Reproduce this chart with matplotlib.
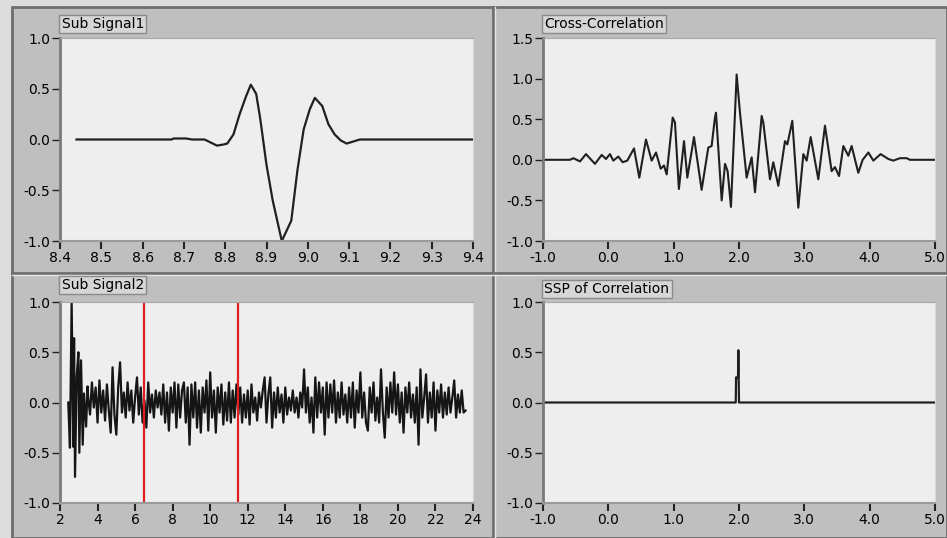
import numpy as np
import matplotlib.pyplot as plt
from matplotlib.patches import Rectangle

# Sub Signal1 (wavelet)
sig1_x = [8.44, 8.67, 8.675, 8.705, 8.72, 8.75, 8.765, 8.78, 8.795, 8.805, 8.82, 8.835,
          8.85, 8.862, 8.875, 8.885, 8.90, 8.915, 8.937, 8.96, 8.975, 8.99, 9.005,
          9.017, 9.035, 9.05, 9.065, 9.08, 9.094, 9.11, 9.126, 9.40]
sig1_y = [0.0, 0.0, 0.01, 0.01, 0.0, 0.0, -0.03, -0.06, -0.05, -0.04, 0.05, 0.25,
          0.42, 0.54, 0.45, 0.2, -0.25, -0.6, -1.0, -0.8, -0.3, 0.1, 0.3,
          0.41, 0.33, 0.15, 0.05, -0.01, -0.04, -0.02, 0.0, 0.0]

# Cross-correlation extrema
xc_x = [-1.0, -0.587, -0.536, -0.434, -0.342, -0.204, -0.102, -0.036, 0.025, 0.076,
        0.153, 0.219, 0.29, 0.393, 0.474, 0.576, 0.663, 0.73, 0.801, 0.852,
        0.893, 0.985, 1.02, 1.08, 1.158, 1.209, 1.311, 1.428, 1.53, 1.581,
        1.632, 1.648, 1.735, 1.786, 1.826, 1.877, 1.964, 2.015, 2.117, 2.194,
        2.245, 2.347, 2.372, 2.474, 2.525, 2.602, 2.704, 2.74, 2.816, 2.908,
        2.985, 3.036, 3.097, 3.214, 3.316, 3.418, 3.469, 3.531, 3.597, 3.673,
        3.724, 3.826, 3.893, 3.98, 4.056, 4.168, 4.286, 4.362, 4.464, 4.566,
        4.617, 5.0]
xc_y = [0.0, 0.0, 0.02, -0.02, 0.07, -0.05, 0.06, 0.01, 0.07, -0.01,
        0.04, -0.03, -0.01, 0.14, -0.22, 0.25, -0.01, 0.09, -0.11, -0.07,
        -0.18, 0.52, 0.46, -0.36, 0.23, -0.22, 0.28, -0.37, 0.15, 0.17,
        0.52, 0.58, -0.5, -0.05, -0.14, -0.58, 1.05, 0.58, -0.22, 0.03,
        -0.4, 0.54, 0.46, -0.24, -0.03, -0.32, 0.23, 0.19, 0.48, -0.59,
        0.07, -0.01, 0.28, -0.24, 0.42, -0.14, -0.09, -0.2, 0.17, 0.05,
        0.17, -0.16, 0.0, 0.09, -0.01, 0.07, 0.01, -0.01, 0.02, 0.02,
        0.0, 0.0]

# Sub Signal2: onset burst, then noise sampled every 0.1 s from 3.5 s
sig2_head_x = [2.44, 2.53, 2.62, 2.71, 2.75, 2.80, 2.89, 2.98, 3.03, 3.12, 3.21, 3.28, 3.39, 3.47]
sig2_head_y = [0.0, -0.45, 1.0, -0.44, 0.64, -0.74, 0.26, 0.5, -0.5, 0.42, -0.42, 0.09, -0.24, 0.16]
sig2_tail_y = [
    0.05, -0.12, 0.2, -0.05, 0.15, -0.2, 0.22, -0.1, 0.12, -0.18,
    0.18, -0.08, -0.3, 0.35, -0.12, -0.32, 0.15, 0.4, -0.1, 0.1,
    -0.15, 0.2, -0.08, 0.12, -0.2, 0.05, 0.25, -0.12, 0.15, -0.2,
    0.02, -0.25, 0.2, -0.1, 0.08, -0.15, 0.12, -0.05, 0.1, -0.12,
    0.18, -0.2, 0.1, -0.28, 0.15, -0.1, 0.2, -0.25, 0.18, -0.15,
    0.12, 0.2, -0.2, 0.15, -0.42, 0.18, -0.15, 0.2, -0.25, 0.12,
    -0.3, 0.15, -0.1, 0.22, -0.28, 0.3, -0.15, 0.12, -0.3, 0.15,
    -0.1, 0.18, -0.22, 0.1, -0.18, 0.2, -0.2, 0.12, -0.15, 0.18,
    -0.12, 0.15, -0.2, 0.08, -0.15, 0.12, -0.22, 0.18, -0.1, 0.05,
    -0.18, 0.1, -0.05, 0.12, 0.25, -0.2, 0.08, 0.25, -0.25, 0.1,
    -0.15, 0.15, -0.1, 0.08, -0.2, 0.15, -0.12, 0.05, -0.08, 0.12,
    -0.1, 0.05, -0.15, 0.1, -0.05, 0.33, -0.1, 0.15, -0.2, 0.05,
    -0.3, 0.25, -0.15, 0.2, -0.1, 0.15, -0.32, 0.2, -0.15, 0.18,
    -0.1, 0.22, -0.2, 0.1, -0.15, 0.2, -0.12, 0.08, -0.2, 0.15,
    -0.15, 0.2, -0.25, 0.12, -0.1, 0.3, -0.15, 0.1, -0.2, -0.28,
    0.15, -0.1, 0.2, -0.18, 0.05, -0.2, 0.33, -0.1, -0.35, 0.15,
    -0.15, 0.2, -0.1, 0.3, -0.12, 0.18, -0.2, 0.1, -0.3, 0.15,
    -0.1, 0.2, -0.15, 0.08, -0.2, 0.15, -0.42, 0.33, -0.15, 0.05,
    0.28, -0.2, 0.1, -0.15, 0.2, -0.28, 0.12, -0.1, 0.18, -0.15,
    0.1, -0.12, 0.15, -0.1, 0.05, 0.22, -0.15, 0.08, -0.1, 0.12,
    -0.1, -0.08]
sig2_tail_x = 3.5 + 0.1 * np.arange(len(sig2_tail_y))
cursor_x = [6.5, 11.5]

# SSP of correlation: a single spike near 2.0
ssp_x = [-1.0, 1.95, 1.955, 1.985, 1.99, 1.995, 2.0, 5.0]
ssp_y = [0.0, 0.0, 0.25, 0.25, 0.52, 0.25, 0.0, 0.0]

W, H = 947, 538
plt.rcParams['font.family'] = 'DejaVu Sans'
fig = plt.figure(figsize=(W / 100, H / 100), dpi=100, facecolor='#dcdcdc')


def px(l, t, r, b):
    return [l / W, 1 - b / H, (r - l) / W, (b - t) / H]


# panel background and separators, kept behind the graphs
fig.add_artist(Rectangle((12 / W, 0), 1 - 12 / W, 1 - 7 / H, transform=fig.transFigure,
                         facecolor='#bfbfbf', edgecolor='#6e6e6e', lw=2, zorder=-10))
fig.add_artist(plt.Line2D([493 / W, 493 / W], [0, 1 - 7 / H], transform=fig.transFigure,
                          color='#6e6e6e', lw=2, zorder=-9))
fig.add_artist(plt.Line2D([495 / W, 495 / W], [0, 1 - 7 / H], transform=fig.transFigure,
                          color='#e6e6e6', lw=1, zorder=-9))
fig.add_artist(plt.Line2D([12 / W, 1], [1 - 273 / H, 1 - 273 / H], transform=fig.transFigure,
                          color='#6e6e6e', lw=2, zorder=-9))
fig.add_artist(plt.Line2D([12 / W, 1], [1 - 275 / H, 1 - 275 / H], transform=fig.transFigure,
                          color='#e6e6e6', lw=1, zorder=-9))


def style(ax, title, title_top, xlim, ylim, xticks, xfmt, yticks):
    ax.set_facecolor('#eeeeee')
    ax.set_xlim(xlim)
    ax.set_ylim(ylim)
    ax.set_xticks(xticks)
    ax.set_xticklabels([xfmt.format(v) for v in xticks])
    ax.set_yticks(yticks)
    ax.set_yticklabels(['{:.1f}'.format(v) for v in yticks])
    ax.tick_params(axis='x', direction='out', length=6, width=1.5, pad=1, labelsize=10,
                   color='#222222')
    ax.tick_params(axis='y', direction='out', length=6, width=1, pad=1, labelsize=10,
                   color='#222222')
    ax.spines['left'].set_color('#7a7a7a')
    ax.spines['left'].set_linewidth(2)
    ax.spines['bottom'].set_color('#9a9a9a')
    ax.spines['bottom'].set_linewidth(1.5)
    ax.spines['top'].set_color('#a8a8a8')
    ax.spines['right'].set_color('#d8d8d8')
    l = ax.get_position().x0 * W
    fig.text(l / W + 1.5 / W, 1 - title_top / H, title, fontsize=10, ha='left', va='top',
             bbox=dict(boxstyle='square,pad=0.15', facecolor='#d6d6d6', edgecolor='#8a8a8a', lw=1))


ax1 = fig.add_axes(px(60, 38, 473, 241))
ax1.plot(sig1_x, sig1_y, color='#202020', lw=1.6)
style(ax1, 'Sub Signal1', 17, (8.4, 9.4), (-1.0, 1.0),
      [8.4, 8.5, 8.6, 8.7, 8.8, 8.9, 9.0, 9.1, 9.2, 9.3, 9.4], '{:.1f}', [-1.0, -0.5, 0.0, 0.5, 1.0])

ax2 = fig.add_axes(px(543, 38, 935, 241))
ax2.plot(xc_x, xc_y, color='#202020', lw=1.5)
style(ax2, 'Cross-Correlation', 17, (-1.0, 5.0), (-1.0, 1.5),
      [-1.0, 0.0, 1.0, 2.0, 3.0, 4.0, 5.0], '{:.1f}', [-1.0, -0.5, 0.0, 0.5, 1.0, 1.5])

ax3 = fig.add_axes(px(60, 302, 473, 503))
ax3.plot(list(sig2_head_x) + list(sig2_tail_x), sig2_head_y + sig2_tail_y, color='#151515', lw=1.6)
for cx in cursor_x:
    ax3.axvline(cx, color='#e01e1e', lw=1.6)
style(ax3, 'Sub Signal2', 278, (2, 24), (-1.0, 1.0),
      list(range(2, 25, 2)), '{:d}', [-1.0, -0.5, 0.0, 0.5, 1.0])

ax4 = fig.add_axes(px(543, 302, 935, 503))
ax4.plot(ssp_x, ssp_y, color='#202020', lw=1.6)
style(ax4, 'SSP of Correlation', 282, (-1.0, 5.0), (-1.0, 1.0),
      [-1.0, 0.0, 1.0, 2.0, 3.0, 4.0, 5.0], '{:.1f}', [-1.0, -0.5, 0.0, 0.5, 1.0])

fig.savefig('out.png', dpi=100, facecolor=fig.get_facecolor())
